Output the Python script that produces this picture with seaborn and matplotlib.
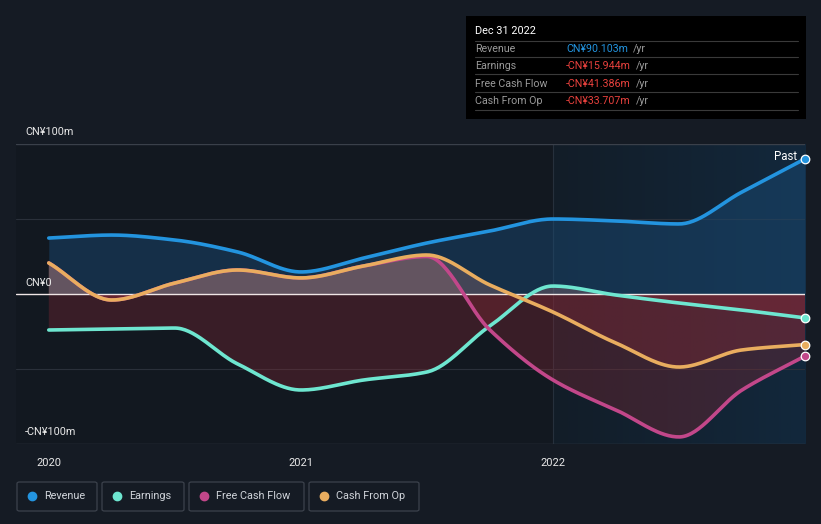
import numpy as np
import matplotlib
matplotlib.use("Agg")
import matplotlib.pyplot as plt
import seaborn as sns
from matplotlib.patches import Rectangle, FancyBboxPatch
from matplotlib.colors import LinearSegmentedColormap

# quarterly points, Dec 2019 .. Dec 2022 (CN¥ millions, trailing 12m)
years = [2020.0, 2020.25, 2020.5, 2020.75, 2021.0, 2021.25, 2021.5,
         2021.75, 2022.0, 2022.25, 2022.5, 2022.75, 2023.0]
revenue = [37.3, 39.3, 36.0, 28.0, 14.7, 24.0, 34.0, 42.0, 50.0, 48.7, 46.7, 68.0, 90.103]
earnings = [-24.0, -23.3, -22.7, -46.7, -64.0, -57.3, -52.0, -21.3, 5.3, -0.7, -6.0, -10.7, -15.944]
free_cash_flow = [20.7, -4.0, 7.3, 16.0, 10.7, 18.7, 25.0, -24.0, -57.3, -77.3, -95.3, -64.0, -41.386]
cash_from_op = [20.7, -4.0, 7.3, 16.0, 10.7, 18.7, 26.0, 6.0, -12.0, -32.7, -48.7, -37.3, -33.707]

series_names = ["Revenue", "Earnings", "Free Cash Flow", "Cash From Op"]
series_values = [revenue, earnings, free_cash_flow, cash_from_op]
series_colors = ["#2394df", "#6ee6d0", "#c2478a", "#e9ad5f"]
tooltip_values = ["CN¥90.103m", "-CN¥15.944m", "-CN¥41.386m", "-CN¥33.707m"]
x_ticks = [2020, 2021, 2022]
y_labels = ["CN¥100m", "CN¥0", "-CN¥100m"]


def smooth(x, y, n=400):
    # monotone cubic curve through the points (drawing only)
    x = np.asarray(x, float)
    y = np.asarray(y, float)
    h = np.diff(x)
    d = np.diff(y) / h
    m = np.zeros_like(y)
    m[0], m[-1] = d[0], d[-1]
    for k in range(1, len(x) - 1):
        if d[k - 1] * d[k] > 0:
            w1 = 2 * h[k] + h[k - 1]
            w2 = h[k] + 2 * h[k - 1]
            m[k] = (w1 + w2) / (w1 / d[k - 1] + w2 / d[k])
    xs = np.linspace(x[0], x[-1], n)
    idx = np.clip(np.searchsorted(x, xs) - 1, 0, len(x) - 2)
    t = (xs - x[idx]) / h[idx]
    h00 = 2 * t**3 - 3 * t**2 + 1
    h10 = t**3 - 2 * t**2 + t
    h01 = -2 * t**3 + 3 * t**2
    h11 = t**3 - t**2
    ys = h00 * y[idx] + h10 * h[idx] * m[idx] + h01 * y[idx + 1] + h11 * h[idx] * m[idx + 1]
    return xs, ys


sns.set_theme(style="dark")
plt.rcParams["font.family"] = ["Roboto", "DejaVu Sans"]

W, H = 821, 524
fig = plt.figure(figsize=(W / 100, H / 100), dpi=100, facecolor="#151b24")
ax = fig.add_axes([16 / W, (H - 444) / H, (805 - 16) / W, 300 / H])
ax.set_facecolor("#121820")
ax.set_xlim(2019.87, 2023.0)
ax.set_ylim(-100, 100)

# highlighted last year background
grad = LinearSegmentedColormap.from_list("g", ["#121d28", "#12283c"])
ax.imshow(np.linspace(0, 1, 100).reshape(1, -1), cmap=grad, aspect="auto",
          extent=[2022.0, 2023.0, -100, 100], zorder=0)
ax.axvline(2022.0, color="#26303c", lw=0.8, zorder=1)

for yv in [50, -50]:
    ax.axhline(yv, color="#2a303a", lw=0.8, zorder=1)
ax.axhline(100, color="#3a404a", lw=1, zorder=1)
ax.axhline(-100, color="#3a404a", lw=1, zorder=1)

# area fills
for name, vals, col in zip(series_names, series_values, series_colors):
    xs, ys = smooth(years, vals)
    if name == "Revenue":
        ax.fill_between(xs, ys, 0, color="#1a4d7a", alpha=0.45, lw=0, zorder=2)
    else:
        ax.fill_between(xs, ys, 0, where=ys < 0, interpolate=True,
                        color="#8a2a36", alpha=0.33, lw=0, zorder=2)
        ax.fill_between(xs, ys, 0, where=ys > 0, interpolate=True,
                        color="#b07a78", alpha=0.3, lw=0, zorder=2)

ax.axhline(0, color="#f0e6e6", lw=1, zorder=3)

# lines
for name, vals, col in zip(series_names, series_values, series_colors):
    xs, ys = smooth(years, vals)
    sns.lineplot(x=xs, y=ys, ax=ax, color=col, lw=2.6, estimator=None,
                 sort=False, zorder=4)
    ax.scatter([years[-1]], [vals[-1]], s=38, color=col, edgecolor="white",
               linewidth=0.9, zorder=6, clip_on=False)

ax.text(2022.968, revenue[-1] + 1.5, "Past", color="white", fontsize=8.3,
        ha="right", va="center", zorder=6)

ax.set_xticks(x_ticks)
ax.set_xticklabels([str(t) for t in x_ticks], color="#e8e8e8", fontsize=8)
ax.tick_params(axis="x", length=4, color="#3a404a", pad=6)
ax.set_yticks([])
ax.set_xlabel("")
ax.set_ylabel("")
for s in ax.spines.values():
    s.set_visible(False)

for lab, py in zip(y_labels, [132, 283, 432]):
    fig.text(25 / W, 1 - py / H, lab, color="#e8e8e8", fontsize=7.8,
             ha="left", va="center")

# tooltip box
fig.patches.append(Rectangle((466 / W, 1 - 119 / H), 340 / W, 103 / H,
                             transform=fig.transFigure, facecolor="black",
                             edgecolor="none", zorder=10))
fig.text(475 / W, 1 - 31 / H, "Dec 31 2022", color="white", fontsize=7.8,
         va="center", zorder=11)
row_y = [49, 66, 84, 101]
for yy in [41, 57, 74, 92, 110]:
    fig.add_artist(plt.Line2D([475 / W, 798 / W], [1 - yy / H, 1 - yy / H],
                              color="#3a3a3a", lw=0.8, zorder=11))
fig.canvas.draw()
renderer = fig.canvas.get_renderer()
for name, val, yy, i in zip(series_names, tooltip_values, row_y, range(4)):
    fig.text(475 / W, 1 - yy / H, name, color="#9a9a9a", fontsize=7.7,
             va="center", zorder=11)
    vc = series_colors[0] if i == 0 else "#e8413d"
    t = fig.text(566 / W, 1 - yy / H, val, color=vc, fontsize=7.7,
                 va="center", zorder=11)
    bb = t.get_window_extent(renderer)
    fig.text((bb.x1 + 5) / W, 1 - yy / H, "/yr", color="#9a9a9a",
             fontsize=7.7, va="center", zorder=11)

# legend boxes
boxes = [(17, 97), (102, 184), (189, 304), (309, 419)]
for (x0, x1), name, col in zip(boxes, series_names, series_colors):
    fig.patches.append(FancyBboxPatch((x0 / W, 1 - 511 / H), (x1 - x0) / W, 29 / H,
                                      boxstyle="round,pad=0,rounding_size=0.003",
                                      transform=fig.transFigure, facecolor="none",
                                      edgecolor="#3c424c", lw=0.9))
    fig.add_artist(plt.Line2D([(x0 + 15) / W], [1 - 496 / H], marker="o",
                              markersize=6, color=col, lw=0))
    fig.text((x0 + 27) / W, 1 - 496 / H, name, color="#d0d4da", fontsize=7.8,
             va="center")

fig.savefig("out.png", dpi=100, facecolor=fig.get_facecolor())
